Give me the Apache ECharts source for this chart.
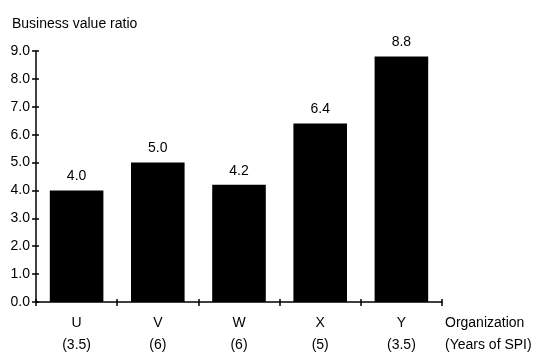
<!DOCTYPE html>
<html><head><meta charset="utf-8">
<script src="https://cdn.jsdelivr.net/npm/echarts@6/dist/echarts.min.js"></script>
<style>html,body{margin:0;padding:0;background:#fff}#c{width:534px;height:354px}</style>
</head><body><div id="c"></div>
<script>
var categories = ['U', 'V', 'W', 'X', 'Y'];
var years = ['3.5', '6', '6', '5', '3.5'];
var values = [4.0, 5.0, 4.2, 6.4, 8.8];

var FONT = '"Liberation Sans", Arial, sans-serif';
var FS = 14;
var labels = categories.map(function (c, i) { return c + '\n(' + years[i] + ')'; });
var chart = echarts.init(document.getElementById('c'));
var lineStyle = { color: '#000', width: 1.5 };
chart.setOption({
  animation: false,
  backgroundColor: '#fff',
  title: { text: 'Business value ratio', left: 7, top: 12,
    textStyle: { fontFamily: FONT, fontSize: FS, fontWeight: 'normal', color: '#000' } },
  grid: { left: 36, right: 92, top: 51, bottom: 52, containLabel: false, outerBoundsMode: 'none' },
  xAxis: [{
    type: 'category', data: labels,
    axisLine: { lineStyle: lineStyle },
    axisTick: { show: true, alignWithLabel: false, length: 4, lineStyle: lineStyle },
    axisLabel: { color: '#000', fontFamily: FONT, fontSize: FS, lineHeight: 22, margin: 10 },
    name: 'Organization\n(Years of SPI)', nameLocation: 'end', nameGap: 3,
    nameTextStyle: { color: '#000', fontFamily: FONT, fontSize: FS, lineHeight: 22,
      align: 'left', verticalAlign: 'top', padding: [10, 0, 0, 0] }
  }, {
    type: 'category', data: labels, position: 'bottom',
    axisLine: { show: false },
    axisTick: { show: true, inside: true, length: 3, lineStyle: lineStyle },
    axisLabel: { show: false }
  }],
  yAxis: [{
    type: 'value', min: 0, max: 9, interval: 1,
    axisLine: { show: true, lineStyle: lineStyle },
    axisTick: { show: true, length: 4, lineStyle: lineStyle },
    splitLine: { show: false },
    axisLabel: { color: '#000', fontFamily: FONT, fontSize: FS, margin: 6,
      formatter: function (v) { return v.toFixed(1); } }
  }, {
    type: 'value', min: 0, max: 9, interval: 1, position: 'left',
    axisLine: { show: false },
    axisTick: { show: true, inside: true, length: 3, lineStyle: lineStyle },
    splitLine: { show: false }, axisLabel: { show: false }
  }],
  series: [{
    type: 'bar', data: values, barCategoryGap: '34%',
    itemStyle: { color: '#000' },
    label: { show: true, position: 'top', distance: 7, color: '#000', fontFamily: FONT, fontSize: FS,
      formatter: function (p) { return p.value.toFixed(1); } }
  }]
});
</script></body></html>
